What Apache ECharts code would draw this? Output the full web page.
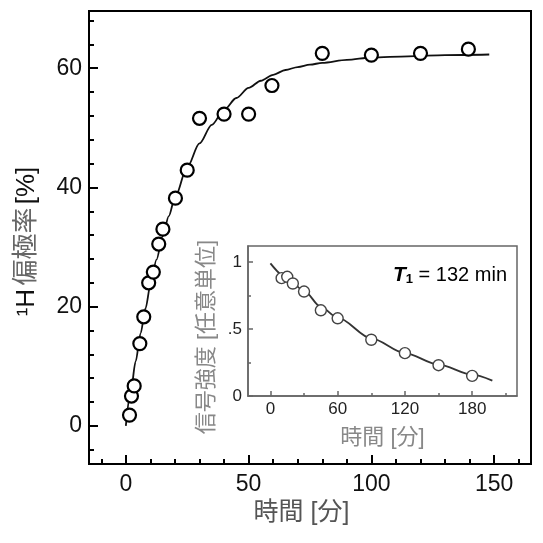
<!DOCTYPE html>
<html>
<head>
<meta charset="utf-8">
<script src="https://cdn.jsdelivr.net/npm/echarts@6/dist/echarts.min.js"></script>
<style>html,body{margin:0;padding:0;background:#fff}#c{width:543px;height:543px}</style>
</head>
<body>
<div id="c"></div>
<script>
// Main chart: 1H polarization buildup
const mainTime = [1.5, 2.3, 3.4, 5.7, 7.3, 9.3, 11.2, 13.4, 15.1, 20.2, 25, 30, 40, 50, 59.5, 80, 100, 120, 139.5];
const mainPol  = [1.8, 5.0, 6.7, 13.8, 18.3, 24.0, 25.8, 30.5, 33.0, 38.2, 42.9, 51.6, 52.3, 52.3, 57.1, 62.5, 62.2, 62.5, 63.2];
const fitTime  = [0, 2, 4, 6, 8, 10, 12.5, 15, 17.5, 20, 25, 30, 35, 40, 45, 50, 55, 60, 65, 70, 75, 80, 90, 100, 115, 130, 148];
const fitPol   = [0, 5.7, 10.8, 15.5, 19.7, 23.6, 27.9, 31.8, 35.2, 38.3, 43.4, 47.4, 50.5, 53.0, 55.0, 56.7, 57.9, 58.9, 59.7, 60.2, 60.6, 60.9, 61.4, 61.8, 62.0, 62.2, 62.3];
const mainXMajor = [0, 50, 100, 150];
const mainXMinor = [-10, 10, 20, 30, 40, 60, 70, 80, 90, 110, 120, 130, 140, 160];
const mainYMajor = [0, 20, 40, 60];
const mainYMinor = [-4, 4, 8, 12, 16, 24, 28, 32, 36, 44, 48, 52, 56, 64, 68];

// Inset: signal decay (T1 = 132 min)
const insetTime = [10, 15, 20, 30, 45, 60, 90, 120, 150, 180];
const insetSig  = [0.88, 0.89, 0.84, 0.78, 0.64, 0.58, 0.42, 0.32, 0.23, 0.15];
const insetFitTime = [0, 15, 30, 45, 60, 90, 120, 150, 180, 198];
const insetFitSig  = [0.99, 0.88, 0.785, 0.665, 0.585, 0.43, 0.32, 0.235, 0.16, 0.115];
const insetXMajor = [0, 60, 120, 180];
const insetXMinor = [30, 90, 150, 210];
const insetYMajor = [0, 0.5, 1];
const insetYMinor = [0.25, 0.75];
const insetYLabels = {0: '0', 0.5: '.5', 1: '1'};

const LAT = 'Liberation Sans, Arial, Noto Sans CJK JP, sans-serif';
const CJK = 'Liberation Sans, Noto Sans CJK JP, sans-serif';

const pairs = (xs, ys) => xs.map((x, i) => [x, ys[i]]);

function majorAxis(o) {
  return Object.assign({
    type: 'value',
    splitLine: { show: false },
    axisLine: { show: true, onZero: false, lineStyle: { color: o.color, width: o.lw } },
    axisTick: { show: true, inside: true, length: o.tl, customValues: o.ticks, lineStyle: { color: o.color, width: o.lw } },
    axisLabel: { show: true, customValues: o.ticks, fontSize: o.fs, color: o.lc, fontFamily: LAT, margin: o.margin,
                 formatter: o.fmt || (v => String(v)) }
  }, o.extra);
}
function minorAxis(o) {
  return Object.assign({
    type: 'value',
    splitLine: { show: false },
    axisLine: { show: false, onZero: false },
    axisTick: { show: true, inside: true, length: o.tl, customValues: o.ticks, lineStyle: { color: o.color, width: o.lw } },
    axisLabel: { show: false }
  }, o.extra);
}

const chart = echarts.init(document.getElementById('c'), null, { renderer: 'canvas' });
chart.setOption({
  animation: false,
  backgroundColor: '#fff',
  grid: [
    { left: 89, right: 12, top: 11, bottom: 79, show: true, borderColor: '#000', borderWidth: 2, containLabel: false },
    { left: 89, right: 12, top: 11, bottom: 79, show: false },
    { left: 248, right: 26, top: 246, bottom: 147, show: true, borderColor: '#666', borderWidth: 1.5, backgroundColor: '#fff' },
    { left: 248, right: 26, top: 246, bottom: 147, show: false }
  ],
  xAxis: [
    majorAxis({ color: '#000', lw: 2, tl: 9, ticks: mainXMajor, fs: 23, lc: '#111', margin: 9,
      extra: { gridIndex: 0, min: -15, max: 165, name: '時間 [分]', nameLocation: 'middle', nameGap: 37,
        nameTextStyle: { fontSize: 25, color: '#555', fontFamily: CJK, padding: [0, 17, 0, 0] } } }),
    minorAxis({ color: '#000', lw: 2, tl: 5, ticks: mainXMinor, extra: { gridIndex: 1, min: -15, max: 165 } }),
    majorAxis({ color: '#666', lw: 1.5, tl: 5, ticks: insetXMajor, fs: 17, lc: '#222', margin: 5,
      extra: { gridIndex: 2, min: -20, max: 220, name: '時間 [分]', nameLocation: 'middle', nameGap: 31,
        nameTextStyle: { fontSize: 22, color: '#888', fontFamily: CJK } } }),
    minorAxis({ color: '#666', lw: 1.5, tl: 3, ticks: insetXMinor, extra: { gridIndex: 3, min: -20, max: 220 } })
  ],
  yAxis: [
    majorAxis({ color: '#000', lw: 2, tl: 9, ticks: mainYMajor, fs: 23, lc: '#111', margin: 7,
      extra: { gridIndex: 0, min: -6.4, max: 69.6, name: '{a|¹H} {b|偏極率} {a|[%]}', nameLocation: 'middle', nameGap: 49,
        nameTextStyle: { padding: [0, 8, 0, 0],
          rich: { a: { fontSize: 26, color: '#111', fontFamily: CJK }, b: { fontSize: 26, color: '#666', fontFamily: CJK } } } } }),
    minorAxis({ color: '#000', lw: 2, tl: 5, ticks: mainYMinor, extra: { gridIndex: 1, min: -6.4, max: 69.6 } }),
    majorAxis({ color: '#666', lw: 1.5, tl: 5, ticks: insetYMajor, fs: 17, lc: '#222', margin: 6,
      fmt: v => insetYLabels[v] !== undefined ? insetYLabels[v] : String(v),
      extra: { gridIndex: 2, min: 0, max: 1.12, name: '信号強度 [任意単位]', nameLocation: 'middle', nameGap: 30,
        nameTextStyle: { fontSize: 22, color: '#888', fontFamily: CJK, padding: [0, 32, 0, 0] } } }),
    minorAxis({ color: '#666', lw: 1.5, tl: 3, ticks: insetYMinor, extra: { gridIndex: 3, min: 0, max: 1.12 } })
  ],
  series: [
    { type: 'line', xAxisIndex: 0, yAxisIndex: 0, data: pairs(fitTime, fitPol), showSymbol: false, smooth: 0.3, smoothMonotone: 'x',
      lineStyle: { color: '#111', width: 1.8 }, z: 2 },
    { type: 'scatter', xAxisIndex: 0, yAxisIndex: 0, data: pairs(mainTime, mainPol), symbol: 'circle', symbolSize: 13,
      itemStyle: { color: '#fff', borderColor: '#000', borderWidth: 2.2, opacity: 1 }, z: 3 },
    { type: 'line', xAxisIndex: 2, yAxisIndex: 2, data: pairs(insetFitTime, insetFitSig), showSymbol: false, smooth: 0.3, smoothMonotone: 'x',
      lineStyle: { color: '#333', width: 1.8 }, z: 4 },
    { type: 'scatter', xAxisIndex: 2, yAxisIndex: 2, data: pairs(insetTime, insetSig), symbol: 'circle', symbolSize: 11,
      itemStyle: { color: '#fff', borderColor: '#444', borderWidth: 1.4, opacity: 1 }, z: 5 }
  ],
  graphic: [
    { type: 'text', left: 393, top: 265, z: 10,
      style: { text: '{t|T}{s|1}{n| = 132 min}', fontFamily: LAT,
        rich: { t: { fontSize: 21, fontWeight: 'bold', fontStyle: 'italic', color: '#222', fontFamily: LAT },
                s: { fontSize: 13, fontWeight: 'bold', color: '#222', verticalAlign: 'bottom', fontFamily: LAT },
                n: { fontSize: 20, color: '#222', fontFamily: LAT } } } }
  ]
});
</script>
</body>
</html>
